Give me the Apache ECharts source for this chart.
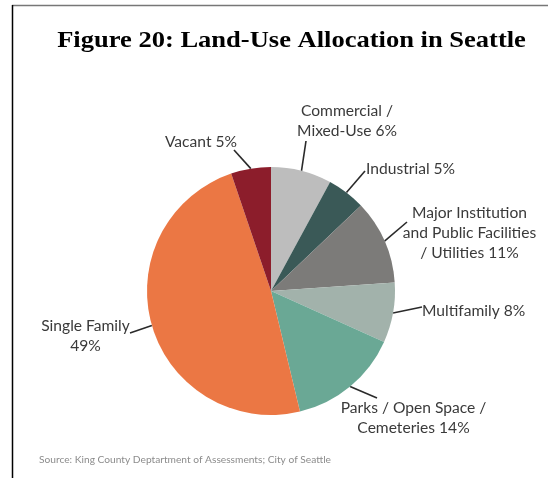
<!DOCTYPE html>
<html>
<head>
<meta charset="utf-8">
<script src="https://cdn.jsdelivr.net/npm/echarts@6/dist/echarts.min.js"></script>
<style>
html,body{margin:0;padding:0;background:#fff;}
#chart{width:548px;height:478px;}
</style>
</head>
<body>
<div id="chart"></div>
<script>
// ---- data ----
const categories = [
  'Commercial /\nMixed-Use',
  'Industrial',
  'Major Institution\nand Public Facilities\n/ Utilities',
  'Multifamily',
  'Parks / Open Space /\nCemeteries',
  'Single Family\n',
  'Vacant'
];
// slice sizes
const sliceValues = [7.9, 5.0, 11.0, 7.8, 14.5, 48.5, 5.2];
// percentages printed on the labels
const labelPercents = ['6%', '5%', '11%', '8%', '14%', '49%', '5%'];
const colors = ['#bdbdbd', '#3a5957', '#7c7b79', '#a2b2ab', '#6aa895', '#eb7744', '#8c1d2b'];
const titleText = 'Figure 20: Land-Use Allocation in Seattle';
const sourceText = 'Source: King County Deptartment of Assessments; City of Seattle';

// ---- label layout (positions only) ----
const labelLayoutCfg = [
  {x: 347, y: 121, align: 'center', end: [306, 141]},
  {x: 366, y: 169, align: 'left', end: [365, 171]},
  {x: 469.5, y: 233, align: 'center', end: [407, 222]},
  {x: 422, y: 310.5, align: 'left', end: [422, 307]},
  {x: 413.5, y: 418, align: 'center', end: [377, 398]},
  {x: 85.5, y: 336, align: 'center', end: [130, 333]},
  {x: 201, y: 142, align: 'center', end: [234, 150]}
];

const chart = echarts.init(document.getElementById('chart'), null, {renderer: 'canvas'});

const seriesData = categories.map((c, i) => ({
  name: c,
  value: sliceValues[i],
  itemStyle: {color: colors[i]}
}));

chart.setOption({
  animation: false,
  graphic: [
    {type: 'line', shape: {x1: 12, y1: 5.5, x2: 548, y2: 5.5}, style: {stroke: '#777', lineWidth: 1.5}},
    {type: 'line', shape: {x1: 12.5, y1: 5, x2: 12.5, y2: 478}, style: {stroke: '#000', lineWidth: 1.5}},
    {
      type: 'text', x: 291.5, y: 40.5, scaleX: 1.105, scaleY: 1,
      style: {
        text: titleText, x: 0, y: 0, align: 'center', verticalAlign: 'middle',
        fontFamily: 'Liberation Serif', fontWeight: 'bold', fontSize: 24, fill: '#000'
      }
    },
    {
      type: 'text', left: 39, top: 454.5,
      style: {
        text: sourceText,
        fontFamily: 'Lato', fontSize: 10.2, fill: '#8c8c8c'
      }
    }
  ],
  series: [{
    type: 'pie',
    center: [271, 291],
    radius: [0, 124],
    startAngle: 90,
    clockwise: true,
    data: seriesData,
    label: {
      show: true,
      position: 'outside',
      formatter: (p) => {
        const name = categories[p.dataIndex];
        return name + (name.endsWith('\n') ? '' : ' ') + labelPercents[p.dataIndex];
      },
      fontFamily: 'Lato',
      fontSize: 15.6,
      lineHeight: 20,
      color: '#3a3a3a'
    },
    labelLine: {
      show: true,
      length: 10,
      length2: 0,
      lineStyle: {color: '#2a2a2a', width: 1.6}
    },
    labelLayout: function (params) {
      const c = labelLayoutCfg[params.dataIndex];
      return {
        x: c.x,
        y: c.y,
        align: c.align,
        verticalAlign: 'middle',
        labelLinePoints: [params.labelLinePoints[0], c.end]
      };
    },
    emphasis: {disabled: true}
  }]
});
</script>
</body>
</html>
